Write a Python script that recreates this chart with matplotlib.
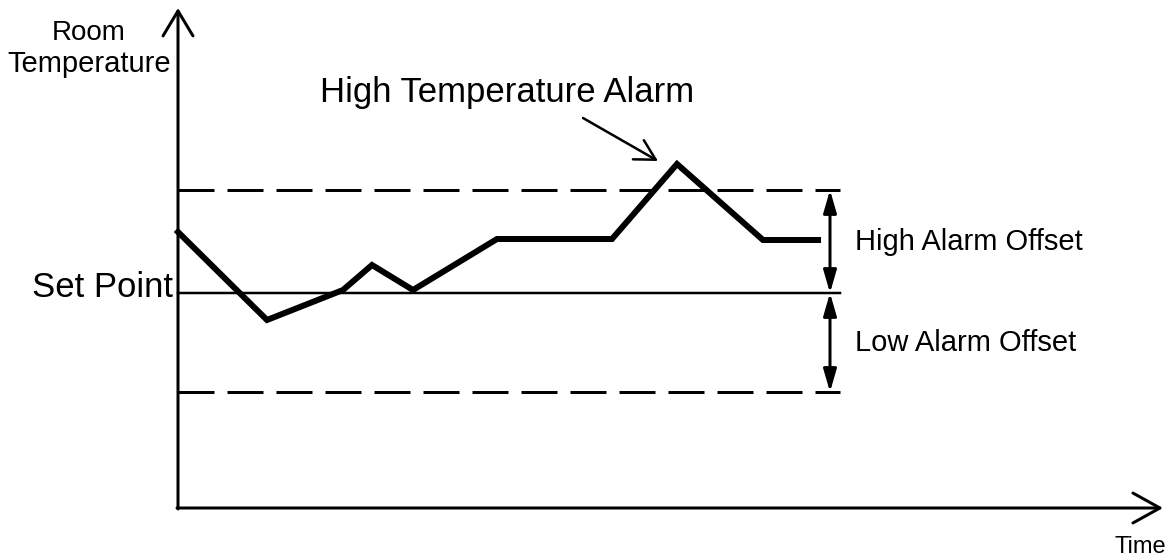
import matplotlib.pyplot as plt
import matplotlib as mpl

mpl.rcParams['font.family'] = ['Liberation Sans', 'DejaVu Sans']
mpl.rcParams['lines.scale_dashes'] = False

# drawing units follow the picture: x to the right, y downwards
time = [178, 267, 343, 372, 413, 497, 612, 677, 763, 818]
temp = [232, 320, 290, 265, 290, 239, 239, 164, 240, 240]

set_point = 293
high_limit = 190
low_limit = 392
band_end = 840

axis_x0, axis_y0 = 178, 508
axis_x1, axis_y1 = 1163, 8

fig, ax = plt.subplots(figsize=(11.68, 5.57), dpi=100)
plt.subplots_adjust(left=0, right=1, top=1, bottom=0)
ax.set_xlim(0, 1168)
ax.set_ylim(557, 0)
ax.axis('off')

px = 0.72  # pixels -> points at 100 dpi

# axes with open arrow heads
ax.annotate('', xy=(axis_x0, axis_y1), xytext=(axis_x0, axis_y0 + 1),
            arrowprops=dict(arrowstyle='->,head_length=%g,head_width=%g' % (25 * px, 15 * px),
                            mutation_scale=1, lw=3 * px, color='black',
                            shrinkA=0, shrinkB=0))
ax.annotate('', xy=(axis_x1, axis_y0), xytext=(axis_x0 - 1, axis_y0),
            arrowprops=dict(arrowstyle='->,head_length=%g,head_width=%g' % (27 * px, 15 * px),
                            mutation_scale=1, lw=3 * px, color='black',
                            shrinkA=0, shrinkB=0))

# limits
ax.plot([axis_x0, band_end], [set_point, set_point], color='black', lw=2.5 * px)
for y in [high_limit, low_limit]:
    ax.plot([axis_x0, band_end], [y, y], color='black', lw=3 * px,
            dashes=(36 * px, 13 * px), solid_capstyle='butt', dash_capstyle='butt')

# temperature trace
ax.plot(time, temp, color='black', lw=6 * px, solid_joinstyle='miter')

# offset arrows
for y0, y1 in [(high_limit, set_point), (set_point, low_limit)]:
    ax.annotate('', xy=(830, y1), xytext=(830, y0),
                arrowprops=dict(arrowstyle='<|-|>,head_length=%g,head_width=%g' % (19 * px, 5.5 * px),
                                mutation_scale=1, lw=3 * px, color='black',
                                shrinkA=0, shrinkB=0))

# alarm pointer
ax.annotate('', xy=(658, 161), xytext=(583, 118),
            arrowprops=dict(arrowstyle='->,head_length=%g,head_width=%g' % (20 * px, 11 * px),
                            mutation_scale=1, lw=2.5 * px, color='black',
                            shrinkA=0, shrinkB=0))

ax.text(507, 102, 'High Temperature Alarm', fontsize=25, ha='center', va='baseline')
ax.text(89, 40, 'Room', fontsize=20, ha='center', va='baseline')
ax.text(89, 72, 'Temperature', fontsize=21, ha='center', va='baseline')
ax.text(173, 297, 'Set Point', fontsize=25, ha='right', va='baseline')
ax.text(855, 250, 'High Alarm Offset', fontsize=21, ha='left', va='baseline')
ax.text(855, 351, 'Low Alarm Offset', fontsize=21, ha='left', va='baseline')
ax.text(1166, 553, 'Time', fontsize=17, ha='right', va='baseline')

plt.savefig('out.png', dpi=100)
